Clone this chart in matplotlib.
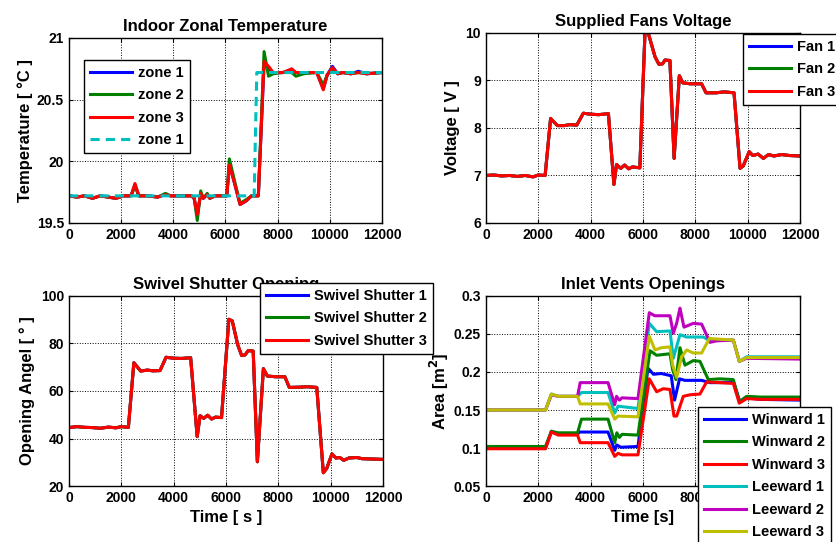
import matplotlib
matplotlib.use("Agg")
import matplotlib.pyplot as plt

# ---- Indoor zonal temperature ----
T_TIME = [0, 300, 600, 900, 1200, 1500, 1800, 2100, 2380, 2530, 2680, 3000, 3400, 3700, 3900,
          4300, 4700, 4800, 4920, 5050, 5150, 5300, 5400, 5600, 5800, 6050, 6150, 6350, 6560,
          6800, 7000, 7260, 7480, 7650, 7830, 8200, 8540, 8700, 9000, 9500, 9750, 9900, 10100,
          10300, 10500, 10800, 11100, 11400, 12000]
ZONE3 = [19.72, 19.71, 19.72, 19.70, 19.72, 19.71, 19.70, 19.72, 19.72, 19.82, 19.72, 19.72,
         19.71, 19.73, 19.72, 19.72, 19.72, 19.70, 19.57, 19.74, 19.70, 19.73, 19.70, 19.72,
         19.72, 19.72, 19.97, 19.82, 19.65, 19.68, 19.72, 19.72, 20.81, 20.77, 20.72, 20.72,
         20.75, 20.72, 20.72, 20.72, 20.58, 20.70, 20.76, 20.71, 20.72, 20.71, 20.72, 20.71, 20.72]
ZONE2 = [19.72, 19.71, 19.72, 19.70, 19.72, 19.71, 19.70, 19.72, 19.72, 19.80, 19.72, 19.72,
         19.71, 19.74, 19.72, 19.72, 19.72, 19.70, 19.52, 19.76, 19.70, 19.74, 19.70, 19.72,
         19.72, 19.72, 20.02, 19.84, 19.66, 19.69, 19.72, 19.72, 20.89, 20.69, 20.71, 20.72,
         20.72, 20.69, 20.71, 20.72, 20.62, 20.70, 20.75, 20.71, 20.72, 20.71, 20.72, 20.71, 20.72]
ZONE1 = [19.72, 19.71, 19.72, 19.70, 19.72, 19.71, 19.70, 19.72, 19.72, 19.81, 19.72, 19.72,
         19.71, 19.73, 19.72, 19.72, 19.72, 19.70, 19.56, 19.74, 19.70, 19.73, 19.70, 19.72,
         19.72, 19.72, 19.98, 19.82, 19.65, 19.68, 19.72, 19.72, 20.80, 20.74, 20.72, 20.72,
         20.74, 20.72, 20.72, 20.72, 20.59, 20.70, 20.77, 20.71, 20.72, 20.71, 20.73, 20.71, 20.72]
SET_TIME = [0, 7100, 7200, 12000]
SETPOINT = [19.72, 19.72, 20.72, 20.72]

# ---- Supplied fans voltage (all three fans overlap) ----
V_TIME = [0, 300, 600, 900, 1200, 1500, 1800, 2000, 2260, 2470, 2730, 3000, 3200, 3470, 3720,
          4000, 4300, 4680, 4890, 4990, 5150, 5300, 5450, 5600, 5880, 6080, 6200, 6460, 6610,
          6750, 6840, 7030, 7190, 7390, 7520, 7800, 8240, 8410, 8800, 9100, 9480, 9710, 9830,
          10060, 10200, 10400, 10600, 10800, 11000, 11300, 11600, 12000]
VOLT = [7.0, 7.01, 6.99, 7.0, 6.98, 7.0, 6.97, 7.01, 7.0, 8.2, 8.05, 8.05, 8.07, 8.06, 8.31,
        8.29, 8.28, 8.3, 6.81, 7.23, 7.15, 7.22, 7.14, 7.18, 7.16, 10.05, 10.0, 9.5, 9.34,
        9.35, 9.43, 9.42, 7.36, 9.1, 8.95, 8.93, 8.93, 8.74, 8.74, 8.76, 8.74, 7.15, 7.2,
        7.5, 7.42, 7.45, 7.36, 7.44, 7.41, 7.44, 7.42, 7.41]

# ---- Swivel shutter opening (all three overlap) ----
S_TIME = [0, 300, 600, 900, 1200, 1500, 1800, 2000, 2270, 2480, 2740, 3000, 3200, 3480, 3710,
          4000, 4300, 4650, 4900, 5010, 5150, 5300, 5450, 5600, 5830, 6110, 6240, 6450, 6600,
          6730, 6850, 7040, 7200, 7430, 7580, 7900, 8250, 8420, 8800, 9100, 9470, 9720, 9850,
          10050, 10200, 10350, 10500, 10700, 11000, 11200, 11500, 12000]
ANGLE = [44.6, 45.0, 44.7, 44.6, 44.3, 44.8, 44.5, 45.0, 44.7, 71.9, 68.4, 68.8, 68.5, 68.6,
         74.2, 73.8, 73.7, 74.0, 40.8, 49.6, 48.5, 49.8, 48.2, 49.0, 48.8, 90.2, 89.5, 79.4,
         74.9, 75.2, 77.0, 76.8, 30.2, 69.4, 66.3, 66.0, 66.0, 61.5, 61.6, 61.8, 61.5, 25.6,
         27.4, 33.5, 31.8, 32.0, 30.8, 31.8, 32.0, 31.5, 31.4, 31.2]

# ---- Inlet vents openings ----
W1_T = [0, 2275, 2500, 2760, 3500, 3560, 4665, 4920, 5000, 5150, 5809, 6191, 6400, 6700, 7080,
        7208, 7398, 7600, 8242, 8560, 9470, 9700, 9960, 10500, 12000]
W1_V = [0.100, 0.100, 0.122, 0.118, 0.118, 0.121, 0.121, 0.097, 0.104, 0.101, 0.102, 0.205,
        0.197, 0.198, 0.195, 0.163, 0.191, 0.189, 0.189, 0.186, 0.186, 0.161, 0.166, 0.164, 0.163]
W2_T = [0, 2275, 2500, 2760, 3500, 3650, 4665, 4920, 5000, 5100, 5200, 5809, 6268, 6522, 7032,
        7134, 7261, 7414, 7605, 7924, 8178, 8497, 8943, 9452, 9682, 9962, 10500, 12000]
W2_V = [0.102, 0.102, 0.122, 0.120, 0.120, 0.138, 0.138, 0.107, 0.120, 0.114, 0.118, 0.117,
        0.228, 0.222, 0.224, 0.203, 0.190, 0.232, 0.209, 0.215, 0.214, 0.190, 0.191, 0.190,
        0.161, 0.168, 0.167, 0.167]
W3_T = [0, 2275, 2500, 2760, 3500, 3600, 4665, 4920, 5047, 5200, 5809, 6242, 6522, 6777, 7032,
        7185, 7287, 7541, 7796, 8178, 8433, 9452, 9682, 9962, 10500, 12000]
W3_V = [0.099, 0.099, 0.121, 0.117, 0.117, 0.107, 0.107, 0.089, 0.093, 0.091, 0.091, 0.191,
        0.174, 0.178, 0.177, 0.142, 0.142, 0.168, 0.170, 0.171, 0.187, 0.185, 0.159, 0.165,
        0.164, 0.164]
L1_T = [0, 2275, 2500, 2760, 3500, 3650, 4665, 4920, 5047, 5809, 6242, 6522, 7032, 7159, 7414,
        7669, 8306, 8560, 9452, 9682, 9962, 12000]
L1_V = [0.150, 0.150, 0.171, 0.168, 0.168, 0.173, 0.173, 0.146, 0.155, 0.152, 0.264, 0.253,
        0.254, 0.218, 0.249, 0.246, 0.246, 0.241, 0.242, 0.214, 0.220, 0.220]
L2_T = [0, 2275, 2500, 2760, 3500, 3600, 4665, 4920, 4990, 5100, 5200, 5809, 6242, 6450, 7032,
        7159, 7287, 7414, 7567, 7924, 8242, 8560, 8815, 9452, 9682, 9962, 12000]
L2_V = [0.150, 0.150, 0.170, 0.168, 0.168, 0.186, 0.186, 0.157, 0.168, 0.163, 0.166, 0.165,
        0.278, 0.274, 0.274, 0.251, 0.264, 0.284, 0.259, 0.264, 0.263, 0.239, 0.241, 0.242,
        0.214, 0.218, 0.217]
L3_T = [0, 2275, 2500, 2760, 3500, 3600, 4665, 4920, 5047, 5809, 6242, 6458, 6713, 7032, 7134,
        7287, 7478, 7669, 7924, 8242, 8535, 9452, 9682, 9962, 12000]
L3_V = [0.150, 0.150, 0.171, 0.168, 0.168, 0.158, 0.158, 0.138, 0.142, 0.141, 0.247, 0.229,
        0.232, 0.233, 0.209, 0.193, 0.220, 0.229, 0.225, 0.225, 0.244, 0.242, 0.214, 0.219,
        0.219]

BLUE, GREEN, RED = (0, 0, 1), (0, 0.5, 0), (1, 0, 0)
CYAN, MAGENTA, YELLOW = (0, 0.75, 0.75), (0.75, 0, 0.75), (0.75, 0.75, 0)

plt.rcParams["font.family"] = ["Liberation Sans", "DejaVu Sans"]
plt.rcParams["font.weight"] = "bold"
plt.rcParams["axes.titleweight"] = "bold"
plt.rcParams["axes.labelweight"] = "bold"
plt.rcParams["font.size"] = 10
plt.rcParams["axes.titlesize"] = 12
plt.rcParams["axes.labelsize"] = 12
plt.rcParams["legend.fontsize"] = 10.5

fig = plt.figure(figsize=(8.36, 5.42), dpi=100)


def style_axes(ax, ylim, yticks):
    ax.set_xlim(0, 12000)
    ax.set_xticks(range(0, 12001, 2000))
    ax.set_ylim(*ylim)
    ax.set_yticks(yticks)
    ax.grid(True, linestyle=":", color="black", linewidth=0.7)
    ax.tick_params(direction="in", top=True, right=True, length=3, labelsize=10)
    for s in ax.spines.values():
        s.set_linewidth(1.0)


def add_legend(ax, left, top):
    leg = ax.legend(loc="upper left", bbox_to_anchor=(left, top), bbox_transform=fig.transFigure,
                    fancybox=False, framealpha=1, edgecolor="black", handlelength=2.9,
                    handletextpad=0.4, borderaxespad=0, labelspacing=0.58)
    leg.get_frame().set_linewidth(1.0)
    return leg


lw = 2.2

# Top-left
ax1 = fig.add_axes([0.0825, 0.5886, 0.3744, 0.3413])
ax1.plot(T_TIME, ZONE1, color=BLUE, lw=lw, label="zone 1")
ax1.plot(T_TIME, ZONE2, color=GREEN, lw=lw, label="zone 2")
ax1.plot(T_TIME, ZONE3, color=RED, lw=lw, label="zone 3")
ax1.plot(SET_TIME, SETPOINT, color=CYAN, lw=lw, ls=(0, (3, 2)), label="zone 1")
style_axes(ax1, (19.5, 21), [19.5, 20, 20.5, 21])
ax1.set_yticklabels(["19.5", "20", "20.5", "21"])
ax1.set_title("Indoor Zonal Temperature", pad=5)
ax1.set_ylabel("Temperature [ °C ]", labelpad=3)
add_legend(ax1, 0.1005, 0.889)

# Top-right
ax2 = fig.add_axes([0.5813, 0.5886, 0.3756, 0.3506])
ax2.plot(V_TIME, VOLT, color=BLUE, lw=lw, label="Fan 1")
ax2.plot(V_TIME, VOLT, color=GREEN, lw=lw, label="Fan 2")
ax2.plot(V_TIME, VOLT, color=RED, lw=lw, label="Fan 3")
style_axes(ax2, (6, 10), [6, 7, 8, 9, 10])
ax2.set_title("Supplied Fans Voltage", pad=5)
ax2.set_ylabel("Voltage [ V ]")
add_legend(ax2, 0.889, 0.937)

# Bottom-left
ax3 = fig.add_axes([0.0825, 0.1033, 0.3756, 0.3506])
ax3.plot(S_TIME, ANGLE, color=BLUE, lw=lw, label="Swivel Shutter 1")
ax3.plot(S_TIME, ANGLE, color=GREEN, lw=lw, label="Swivel Shutter 2")
ax3.plot(S_TIME, ANGLE, color=RED, lw=lw, label="Swivel Shutter 3")
style_axes(ax3, (20, 100), [20, 40, 60, 80, 100])
ax3.set_title("Swivel Shutter Opening", pad=5)
ax3.set_ylabel("Opening Angel [ ° ]")
ax3.set_xlabel("Time [ s ]", labelpad=4)

# Bottom-right
ax4 = fig.add_axes([0.5813, 0.1033, 0.3756, 0.3506])
ax4.plot(W1_T, W1_V, color=BLUE, lw=lw, label="Winward 1")
ax4.plot(W2_T, W2_V, color=GREEN, lw=lw, label="Winward 2")
ax4.plot(W3_T, W3_V, color=RED, lw=lw, label="Winward 3")
ax4.plot(L1_T, L1_V, color=CYAN, lw=lw, label="Leeward 1")
ax4.plot(L2_T, L2_V, color=MAGENTA, lw=lw, label="Leeward 2")
ax4.plot(L3_T, L3_V, color=YELLOW, lw=lw, label="Leeward 3")
style_axes(ax4, (0.05, 0.3), [0.05, 0.1, 0.15, 0.2, 0.25, 0.3])
ax4.set_yticklabels(["0.05", "0.1", "0.15", "0.2", "0.25", "0.3"])
ax4.set_title("Inlet Vents Openings", pad=5)
ax4.set_ylabel("Area [m$^\\mathbf{2}$]", labelpad=2)
ax4.set_xlabel("Time [s]", labelpad=4)
add_legend(ax4, 0.835, 0.249)

# swivel legend sits over the right panel, so lift its axes above the others
add_legend(ax3, 0.311, 0.478)
ax3.set_zorder(5)

fig.savefig("out.png", dpi=100)
